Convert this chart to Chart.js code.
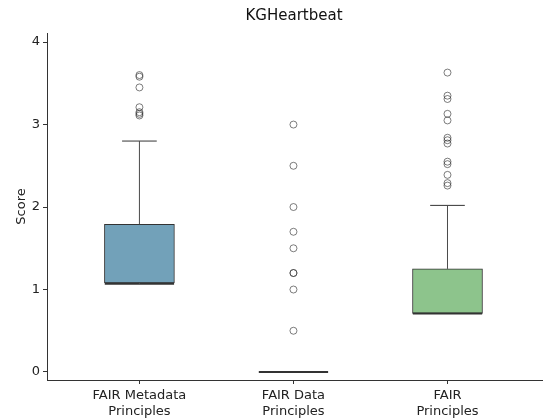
<!DOCTYPE html>
<html>
<head>
<meta charset="utf-8">
<script src="https://cdn.jsdelivr.net/npm/chart.js@4.4.1/dist/chart.umd.min.js"></script>
<style>
  html, body { margin: 0; padding: 0; background: #fff; overflow: hidden; }
  #wrap { width: 548px; height: 419px; position: relative; }
</style>
</head>
<body>
<div id="wrap"><canvas id="c"></canvas></div>
<script>
const categories = [["FAIR Metadata", "Principles"], ["FAIR Data", "Principles"], ["FAIR", "Principles"]];
const q1 = [1.08, 0, 0.71];
const q3 = [1.79, 0, 1.25];
const medians = [1.07, 0, 0.71];
const whiskerLow = [1.07, 0, 0.71];
const whiskerHigh = [2.80, 0, 2.02];
const outliers = [
  [3.60, 3.58, 3.45, 3.21, 3.15, 3.13, 3.11],
  [3.0, 2.5, 2.0, 1.7, 1.5, 1.2, 1.2, 1.0, 0.5],
  [3.63, 3.35, 3.31, 3.13, 3.05, 2.84, 2.81, 2.77, 2.55, 2.52, 2.39, 2.29, 2.26]
];
const yTicks = [0, 1, 2, 3, 4];
const boxColors = ["#72a1b9", "#7fb3a6", "#8dc48c"];

const boxW = 0.45, capW = 0.225;
const edge = "#333333";

function seg(x0, y0, x1, y1, color, width) {
  return {
    type: "line",
    data: [{ x: x0, y: y0 }, { x: x1, y: y1 }],
    borderColor: color,
    borderWidth: width,
    pointRadius: 0,
    fill: false,
    order: 0
  };
}

const datasets = [];
// boxes (q1..q3)
datasets.push({
  type: "bar",
  data: categories.map((c, i) => ({ x: i, y: [q1[i], q3[i]] })),
  backgroundColor: boxColors,
  borderColor: edge,
  borderWidth: 1,
  borderSkipped: false,
  barThickness: 70,
  order: 2
});
// whiskers, caps, medians
categories.forEach((c, i) => {
  if (whiskerHigh[i] > q3[i]) datasets.push(seg(i, q3[i], i, whiskerHigh[i], "#4a4a4a", 1));
  if (whiskerLow[i] < q1[i]) datasets.push(seg(i, q1[i], i, whiskerLow[i], "#4a4a4a", 1));
  if (whiskerHigh[i] > q3[i]) datasets.push(seg(i - capW / 2, whiskerHigh[i], i + capW / 2, whiskerHigh[i], "#333", 1));
  datasets.push(seg(i - boxW / 2, medians[i], i + boxW / 2, medians[i], "#333", 2));
});
// outliers
datasets.push({
  type: "scatter",
  data: outliers.flatMap((vals, i) => vals.map(v => ({ x: i, y: v }))),
  pointStyle: "circle",
  pointRadius: 3.5,
  backgroundColor: "rgba(0,0,0,0)",
  borderColor: "rgba(40,40,40,0.6)",
  borderWidth: 1,
  order: 1
});

const titlePlugin = {
  id: "axTitle",
  afterDraw(chart) {
    const { ctx } = chart;
    ctx.save();
    ctx.font = "15px 'DejaVu Sans'";
    ctx.fillStyle = "#111";
    ctx.textAlign = "center";
    ctx.textBaseline = "middle";
    ctx.fillText("KGHeartbeat", 294, 16);
    ctx.restore();
  }
};

new Chart(document.getElementById("c"), {
  data: { datasets },
  plugins: [titlePlugin],
  options: {
    responsive: true,
    maintainAspectRatio: false,
    animation: false,
    layout: { padding: { top: 33, right: 0, left: 0, bottom: 0 } },
    plugins: { legend: { display: false }, tooltip: { enabled: false } },
    scales: {
      x: {
        type: "linear",
        offset: false,
        min: -0.6,
        max: 2.62,
        afterBuildTicks: s => { s.ticks = categories.map((c, i) => ({ value: i })); },
        afterFit: s => { s.height = 39; s.paddingLeft = 0; s.paddingRight = 0; },
        ticks: {
          color: "#222",
          font: { family: "DejaVu Sans", size: 13 },
          padding: 4,
          maxRotation: 0,
          autoSkip: false,
          callback: v => categories[v]
        },
        grid: { display: true, offset: false, drawOnChartArea: false, drawTicks: true, tickLength: 4, color: "#333" },
        border: { display: true, color: "#333", width: 1 }
      },
      y: {
        type: "linear",
        min: -0.097,
        max: 4.11,
        afterBuildTicks: s => { s.ticks = yTicks.map(v => ({ value: v })); },
        afterFit: s => { s.width = 47; },
        ticks: {
          color: "#222",
          font: { family: "DejaVu Sans", size: 13 },
          padding: 3
        },
        title: {
          display: true,
          text: "Score",
          color: "#222",
          font: { family: "DejaVu Sans", size: 13 },
          padding: { top: 14, bottom: 0 }
        },
        grid: { display: true, drawOnChartArea: false, drawTicks: true, tickLength: 4, color: "#333" },
        border: { display: true, color: "#333", width: 1 }
      }
    }
  }
});
</script>
</body>
</html>
